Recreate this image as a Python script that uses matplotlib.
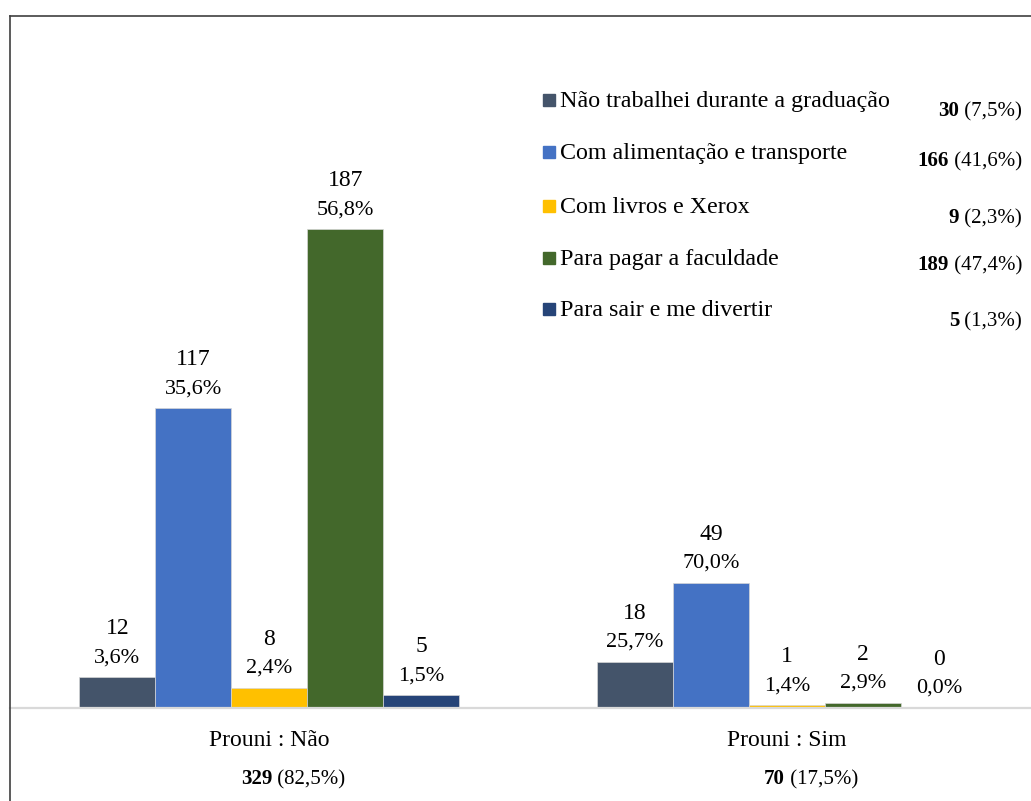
import matplotlib
matplotlib.use("Agg")
import matplotlib.pyplot as plt
from matplotlib.lines import Line2D
from matplotlib.patches import Rectangle
import numpy as np

# ---------------- data ----------------
groups = ["Prouni : Não", "Prouni : Sim"]
series = ["Não trabalhei durante a graduação",
          "Com alimentação e transporte",
          "Com livros e Xerox",
          "Para pagar a faculdade",
          "Para sair e me divertir"]
counts_nao = [12, 117, 8, 187, 5]
counts_sim = [18, 49, 1, 2, 0]
colors = ["#44546A", "#4472C4", "#FFC000", "#43682B", "#264478"]

plt.rcParams['font.family'] = ['Liberation Serif', 'DejaVu Serif']

W, H = 1031, 801
fig = plt.figure(figsize=(W / 100, H / 100), dpi=100)


def fx(px):
    return px / W


def fy(py):
    return 1 - py / H


def fmt(v):
    return f"{v:.1f}".replace('.', ',') + "%"


# axes occupying the plotting region (baseline at y=708 px)
ax = fig.add_axes([fx(10), fy(708), fx(1031) - fx(10), fy(16) - fy(708)])
ax.set_xlim(-0.5014, 1.4715)
ax.set_ylim(0, 270.2)
for s in ["left", "right", "top"]:
    ax.spines[s].set_visible(False)
ax.spines["bottom"].set_color("#d9d9d9")
ax.spines["bottom"].set_linewidth(1.6)
ax.set_xticks([])
ax.set_yticks([])

data = np.array([counts_nao, counts_sim])  # groups x series
group_tot = data.sum(axis=1)
series_tot = data.sum(axis=0)
grand = data.sum()

w = 76 / 517.5
xg = np.arange(len(groups))
for i in range(len(series)):
    xs = xg + (i - 2) * w
    vals = data[:, i]
    ax.bar(xs, vals, width=w, color=colors[i], edgecolor="#d6d6d6",
           linewidth=0.5, zorder=2)
    for x, v, gt in zip(xs, vals, group_tot):
        ax.annotate(str(v), xy=(x, v), xytext=(0, 43), textcoords="offset pixels",
                    ha="center", va="baseline", fontsize=17, color="black")
        ax.annotate(fmt(100 * v / gt), xy=(x, v), xytext=(0, 15),
                    textcoords="offset pixels", ha="center", va="baseline",
                    fontsize=16, color="black")

# frame
fig.add_artist(Line2D([fx(10), fx(10)], [fy(16), fy(801)], color="#404040", lw=1.2))
fig.add_artist(Line2D([fx(10), fx(1031)], [fy(16), fy(16)], color="#404040", lw=1.2))

renderer = fig.canvas.get_renderer()

# legend (manual)
row_y = [100, 152, 206, 258, 309]
tot_y = [116, 166, 223, 270, 326]
for i, name in enumerate(series):
    fig.add_artist(Rectangle((fx(543), fy(row_y[i] + 6)), 12 / W, 12 / H,
                             transform=fig.transFigure, color=colors[i]))
    fig.text(fx(560), fy(row_y[i] + 7), name, fontsize=17.3, ha="left",
             va="baseline")
    t2 = fig.text(fx(1022), fy(tot_y[i]), f" ({fmt(100 * series_tot[i] / grand)})",
                  fontsize=15, ha="right", va="baseline")
    bb = t2.get_window_extent(renderer)
    fig.text(bb.x0 / W, fy(tot_y[i]), str(series_tot[i]), fontsize=15,
             fontweight="bold", ha="right", va="baseline")

# category labels and totals
cat_cx = [269.5, 787]
tot_cx = [293, 811]
for g, name in enumerate(groups):
    fig.text(fx(cat_cx[g]), fy(746), name, fontsize=17, ha="center", va="baseline")
    tb = fig.text(0, fy(784), str(group_tot[g]), fontsize=15, fontweight="bold",
                  ha="left", va="baseline")
    tn = fig.text(0, fy(784), f" ({fmt(100 * group_tot[g] / grand)})", fontsize=15,
                  ha="left", va="baseline")
    wb = tb.get_window_extent(renderer).width
    wn = tn.get_window_extent(renderer).width
    x0 = tot_cx[g] - (wb + wn) / 2
    tb.set_x(x0 / W)
    tn.set_x((x0 + wb) / W)

fig.savefig("out.png", dpi=100)
